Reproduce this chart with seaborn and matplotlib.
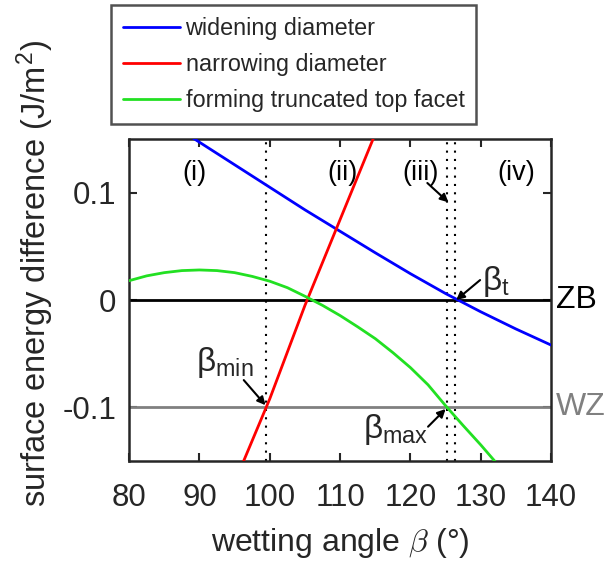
import numpy as np
import pandas as pd
import matplotlib
matplotlib.use("Agg")
import matplotlib.pyplot as plt
import seaborn as sns
from matplotlib.lines import Line2D

# ---- data ----
blue_x = [80, 85, 90, 95, 100, 105, 110, 115, 120, 125, 130, 135, 140]
blue_y = [0.190, 0.168, 0.147, 0.126, 0.105, 0.084, 0.064, 0.044, 0.0245, 0.006, -0.011, -0.027, -0.042]

red_x = [95, 100, 105, 110, 115, 120]
red_y = [-0.170, -0.092, -0.005, 0.075, 0.155, 0.235]

green_x = [80, 82.5, 85, 87.5, 90, 92.5, 95, 97.5, 100, 102.5, 105, 107.5, 110,
           112.5, 115, 117.5, 120, 122.5, 125, 127.5, 130, 132.5, 135]
green_y = [0.018, 0.0225, 0.0255, 0.0274, 0.028, 0.0274, 0.0255, 0.022, 0.0175, 0.0115,
           0.0035, -0.005, -0.0145, -0.025, -0.036, -0.049, -0.063, -0.079, -0.0985,
           -0.117, -0.135, -0.154, -0.175]

series_names = ["widening diameter", "narrowing diameter", "forming truncated top facet"]
series_colors = ["#0000ff", "#ff0000", "#22e022"]

zb_level = 0.0
wz_level = -0.1
dotted_x = [99.5, 125.2, 126.4]
region_labels = ["(i)", "(ii)", "(iii)", "(iv)"]
region_x = [89.3, 110.3, 121.4, 135.0]
region_y = 0.118

xticks = [80, 90, 100, 110, 120, 130, 140]
yticks = [-0.1, 0, 0.1]
ytick_labels = ["-0.1", "0", "0.1"]

df = pd.concat([
    pd.DataFrame({"x": blue_x, "y": blue_y, "s": series_names[0]}),
    pd.DataFrame({"x": red_x, "y": red_y, "s": series_names[1]}),
    pd.DataFrame({"x": green_x, "y": green_y, "s": series_names[2]}),
])

sns.set_style("ticks")
plt.rcParams["font.family"] = ["Liberation Sans", "DejaVu Sans"]
plt.rcParams["mathtext.fontset"] = "cm"

fig = plt.figure(figsize=(6.09, 5.65), dpi=100)
ax = fig.add_axes([0.212, 0.184, 0.693, 0.570])

dark = "#262626"

# reference lines
ax.axhline(zb_level, color="black", lw=2.0, zorder=2)
ax.axhline(wz_level, color="#808080", lw=2.0, zorder=2)
for xv in dotted_x:
    ax.axvline(xv, color="black", lw=1.5, ls=(0, (1, 3)), zorder=1)

sns.lineplot(data=df, x="x", y="y", hue="s", hue_order=series_names,
             palette=series_colors, ax=ax, lw=2.0, legend=False, sort=False,
             estimator=None, zorder=3)

ax.set_xlim(80, 140)
ax.set_ylim(-0.15, 0.15)
ax.set_xticks(xticks)
ax.set_yticks(yticks)
ax.set_yticklabels(ytick_labels)
ax.tick_params(direction="in", length=6, width=1.5, top=True, right=True,
               labelsize=22.5, colors=dark, labelcolor=dark)
ax.tick_params(axis="x", pad=16)
ax.tick_params(axis="y", pad=9)
for sp in ax.spines.values():
    sp.set_visible(True)
    sp.set_color(dark)
    sp.set_linewidth(1.8)

ax.set_xlabel(r"wetting angle $\beta$ (°)", fontsize=23, color=dark, labelpad=9)
ax.set_ylabel("surface energy difference (J/m$^\\mathregular{2}$)", fontsize=23.5,
              color=dark, labelpad=5, y=0.584)

for lab, xv in zip(region_labels, region_x):
    ax.text(xv, region_y, lab, ha="center", va="center", fontsize=19.5, color="black")

# side labels
ax.text(1.012, zb_level, "ZB", transform=ax.get_yaxis_transform(), ha="left",
        va="center", fontsize=23, color="black", clip_on=False)
ax.text(1.012, wz_level, "WZ", transform=ax.get_yaxis_transform(), ha="left",
        va="center", fontsize=23, color="#808080", clip_on=False)

# annotations (text + arrows)
arrow = dict(arrowstyle="-|>", color="black", lw=1.5, mutation_scale=12,
             shrinkA=0, shrinkB=0)
ax.text(130.2, 0.017, r"$\mathregular{\beta_t}$", fontsize=24, ha="left", va="center")
ax.annotate("", xy=(126.5, 0.0), xytext=(129.9, 0.0186), arrowprops=arrow)
ax.text(97.7, -0.058, r"$\mathregular{\beta_{min}}$", fontsize=24, ha="right", va="center")
ax.annotate("", xy=(99.4, -0.098), xytext=(96.3, -0.0746), arrowprops=arrow)
ax.text(122.5, -0.121, r"$\mathregular{\beta_{max}}$", fontsize=24, ha="right", va="center")
ax.annotate("", xy=(125.0, -0.1015), xytext=(122.5, -0.118), arrowprops=arrow)
ax.annotate("", xy=(125.4, 0.091), xytext=(122.4, 0.109), arrowprops=arrow)

# legend above axes
handles = [Line2D([0], [0], color=c, lw=2.0) for c in series_colors]
leg = fig.legend(handles, series_names, loc="upper left",
                 bbox_to_anchor=(0.182, 0.991), fontsize=16.8, frameon=True,
                 fancybox=False, handlelength=2.45, handletextpad=0.25,
                 borderpad=0.5, labelspacing=0.56, borderaxespad=0)
leg.get_frame().set_edgecolor(dark)
leg.get_frame().set_linewidth(1.8)

fig.savefig("out.png", dpi=100)
